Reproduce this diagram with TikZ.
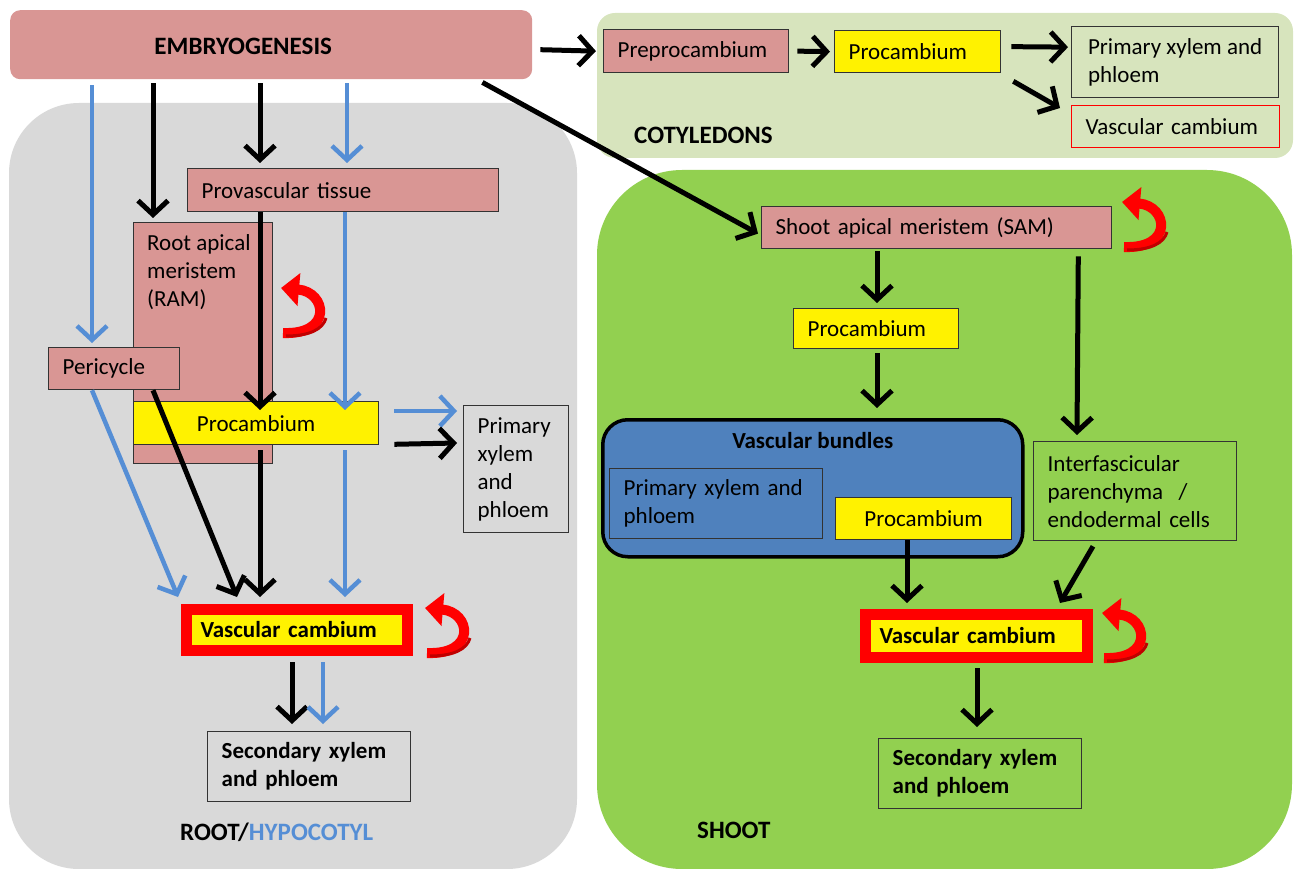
\documentclass[tikz,border=0pt]{standalone}
\usepackage{fontspec}
\setmainfont{Carlito}
\usetikzlibrary{arrows.meta}

\definecolor{pinkfill}{HTML}{D99694}
\definecolor{greyzone}{HTML}{D9D9D9}
\definecolor{cotzone}{HTML}{D7E4BD}
\definecolor{shootzone}{HTML}{92D050}
\definecolor{bundleblue}{HTML}{4F81BD}
\definecolor{arrowblue}{HTML}{558ED5}
\definecolor{curldark}{HTML}{C00000}

\begin{document}
\begin{tikzpicture}[x=1pt,y=-1pt,
  every node/.style={font=\fontsize{23}{28}\selectfont},
  cell/.style={draw=black!80, line width=1.3pt, anchor=north west,
    inner xsep=14pt, inner ysep=0pt, align=left},
  pinkcell/.style={cell, fill=pinkfill},
  yellowcell/.style={cell, fill=yellow},
  boldcell/.style={cell, font=\fontsize{23}{28}\selectfont\bfseries},
  cambium/.style={boldcell, draw=red, line width=11pt, fill=yellow},
  zonelabel/.style={font=\fontsize{25}{30}\selectfont\bfseries, anchor=west, inner sep=0pt},
  flow/.style={line width=5pt, -{Straight Barb[length=14pt,width=30pt]}},
  blueflow/.style={flow, arrowblue, line width=4.5pt},
  renewal/.pic={
    \draw[red, line width=10pt, -{Triangle[length=18pt,width=32pt]}]
      (2,45) .. controls (52,47) and (46,4) .. (0,0);
    \draw[curldark, line width=3pt] (5,48) .. controls (29,48) and (42,41) .. (45,30);
  }]
  \useasboundingbox (0,0) rectangle (1294,869);

  % the three zones
  \fill[greyzone, rounded corners=70pt] (9,103) rectangle (577,869);
  \fill[cotzone, rounded corners=18pt] (597,13) rectangle (1293,158);
  \fill[shootzone, rounded corners=85pt] (597,170) rectangle (1292,869);

  \node[fill=pinkfill, rounded corners=10pt, minimum width=522pt, minimum height=69pt,
    anchor=north west, inner sep=0pt,
    label={[zonelabel, anchor=center, xshift=-28pt, yshift=-2pt]center:EMBRYOGENESIS}]
    (embryo) at (10,10) {};

  % cotyledons
  \node[pinkcell, text width=157pt, minimum height=43pt] (preproc) at (603,29) {Preprocambium};
  \node[yellowcell, text width=138pt, minimum height=42pt] (procC) at (834,30) {Procambium};
  \node[cell, minimum width=207pt, minimum height=71pt, inner xsep=10pt] (primC) at (1071,26) {Primary xylem and\\phloem};
  \node[cell, draw=red, text width=180pt, minimum height=42pt] (vcC) at (1071,105) {Vascular cambium};
  \node[zonelabel] (cotlabel) at (634,135) {COTYLEDONS};

  % root / hypocotyl
  \node[pinkcell, text width=283pt, minimum height=43pt] (provasc) at (187,168) {Provascular tissue};
  \node[pinkcell, minimum width=139pt, minimum height=241pt,
    label={[align=left, anchor=north west, inner sep=0pt, xshift=14pt, yshift=-12pt]north west:Root apical\\meristem\\(RAM)}]
    (ram) at (133,222) {};
  \node[pinkcell, text width=103pt, minimum height=42pt] (pericycle) at (48,347) {Pericycle};
  \node[yellowcell, minimum width=245pt, minimum height=43pt] (procR) at (133,401) {Procambium};
  \node[cell, text width=77pt, minimum height=127pt] (primR) at (463,405) {Primary\\xylem\\and\\phloem};
  \node[cambium, text width=193pt, minimum height=41pt] (vcR) at (181,604) {Vascular cambium};
  \node[boldcell, text width=175pt, minimum height=70pt] (secR) at (207,731) {Secondary xylem\\and phloem};
  \node[zonelabel] (rootlabel) at (180,832) {ROOT/\textcolor{arrowblue}{HYPOCOTYL}};

  % shoot
  \node[pinkcell, text width=322pt, minimum height=42pt] (sam) at (761,206) {Shoot apical meristem (SAM)};
  \node[yellowcell, text width=137pt, minimum height=40pt] (procS) at (793,308) {Procambium};
  \node[draw=black, line width=3.5pt, fill=bundleblue, rounded corners=25pt,
    minimum width=420pt, minimum height=137pt, anchor=north west,
    label={[boldcell, draw=none, anchor=north, yshift=-14pt, inner sep=0pt]north:Vascular bundles}]
    (bundles) at (601,418) {};
  \node[cell, fill=bundleblue, text width=185pt, minimum height=70pt] (primS) at (609,468) {Primary xylem and\\phloem};
  \node[yellowcell, minimum width=176pt, minimum height=42pt] (procV) at (835,497) {Procambium};
  \node[cell, text width=175pt, minimum height=99pt] (interf) at (1033,441) {Interfascicular\\parenchyma~~/\\endodermal cells};
  \node[cambium, text width=194pt, minimum height=43pt] (vcS) at (860,609) {Vascular cambium};
  \node[boldcell, text width=175pt, minimum height=70pt] (secS) at (878,738) {Secondary xylem\\and phloem};
  \node[zonelabel] (shootlabel) at (697,830) {SHOOT};

  % self-renewal
  \pic at (281,288) {renewal};
  \pic at (425,608) {renewal};
  \pic at (1122,202) {renewal};
  \pic at (1102,613) {renewal};

  % root / hypocotyl arrows
  \draw[blueflow] ([xshift=82pt,yshift=-6pt]embryo.south west) -- ([xshift=44pt,yshift=4pt]pericycle.north west);
  \draw[flow] ([xshift=143pt,yshift=-4pt]embryo.south west) -- ([xshift=20pt,yshift=4pt]ram.north west);
  \draw[flow] ([xshift=250pt,yshift=-4pt]embryo.south west) -- ([xshift=73pt,yshift=5pt]provasc.north west);
  \draw[blueflow] ([xshift=337pt,yshift=-4pt]embryo.south west) -- ([xshift=160pt,yshift=5pt]provasc.north west);
  \draw[flow] ([xshift=73pt]provasc.south west) -- ([xshift=127pt,yshift=-9pt]procR.north west);
  \draw[blueflow] ([xshift=158pt]provasc.south west) -- ([xshift=212pt,yshift=-9pt]procR.north west);
  \draw[blueflow] ([xshift=15pt,yshift=-10pt]procR.north east) -- ([xshift=-6pt,yshift=-6pt]primR.north west);
  \draw[flow] ([xshift=15pt,yshift=1pt]procR.south east) -- ([xshift=-6pt,yshift=-38pt]primR.north west);
  \draw[blueflow] ([xshift=44pt]pericycle.south west) -- ([xshift=-3pt,yshift=7pt]vcR.north west);
  \draw[flow] ([xshift=105pt]pericycle.south west) -- ([xshift=56pt,yshift=7pt]vcR.north west);
  \draw[flow] ([xshift=127pt,yshift=-5pt]procR.south west) -- ([xshift=79pt,yshift=7pt]vcR.north west);
  \draw[blueflow] ([xshift=212pt,yshift=-5pt]procR.south west) -- ([xshift=164pt,yshift=7pt]vcR.north west);
  \draw[flow] ([xshift=111pt,yshift=-6pt]vcR.south west) -- ([xshift=85pt,yshift=7pt]secR.north west);
  \draw[blueflow] ([xshift=142pt,yshift=-6pt]vcR.south west) -- ([xshift=116pt,yshift=7pt]secR.north west);

  % cotyledon arrows
  \draw[flow] ([xshift=8pt,yshift=-5pt]embryo.east) -- ([xshift=-7pt]preproc.west);
  \draw[flow] ([xshift=8pt]preproc.east) -- ([xshift=-4pt]procC.west);
  \draw[flow] ([xshift=10pt,yshift=5pt]procC.east) -- ([xshift=-3pt,yshift=15pt]primC.west);
  \draw[flow] ([xshift=12pt,yshift=-8pt]procC.south east) -- ([xshift=-11pt,yshift=-3pt]vcC.north west);
  \draw[flow] ([xshift=-50pt,yshift=-3pt]embryo.south east) -- ([xshift=-3pt,yshift=-6pt]sam.west);

  % shoot arrows
  \draw[flow] ([xshift=116pt,yshift=-2pt]sam.south west) -- ([xshift=84pt,yshift=5pt]procS.north west);
  \draw[flow] ([xshift=84pt,yshift=-4pt]procS.south west) -- ([xshift=276pt,yshift=10pt]bundles.north west);
  \draw[flow] ([xshift=-34pt,yshift=-7pt]sam.south east) -- ([xshift=44pt,yshift=6pt]interf.north west);
  \draw[flow] ([xshift=72pt]procV.south west) -- ([xshift=47pt,yshift=6pt]vcS.north west);
  \draw[flow] ([xshift=60pt,yshift=-5pt]interf.south west) -- ([xshift=-33pt,yshift=6pt]vcS.north east);
  \draw[flow] ([xshift=117pt,yshift=-5pt]vcS.south west) -- ([xshift=99pt,yshift=11pt]secS.north west);
\end{tikzpicture}
\end{document}
